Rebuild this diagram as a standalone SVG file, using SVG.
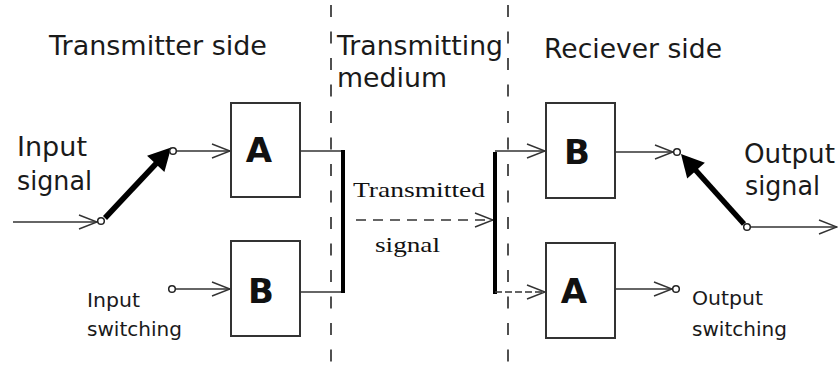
<svg xmlns="http://www.w3.org/2000/svg" width="838" height="371" viewBox="0 0 838 371">
<style>
.t{font-family:"DejaVu Sans","Noto Sans",sans-serif;fill:#1a1a1a}
.h{font-size:27px}
.m{font-size:26px}
.s{font-size:20px}
.big{font-family:"DejaVu Sans","Noto Sans",sans-serif;font-weight:bold;font-size:34px;fill:#111;text-anchor:middle}
.serif{font-family:"Liberation Serif","Times New Roman",serif;font-size:22px;fill:#111}
.box{fill:#fff;stroke:#333;stroke-width:2}
.ln{stroke:#333;stroke-width:1.4;fill:none}
.thick{stroke:#000;stroke-width:4;fill:none}
.sw{stroke:#000;stroke-width:5.5;fill:none}
.div{stroke:#333;stroke-width:1.7;stroke-dasharray:12 14.5;fill:none}
.dot{fill:#fff;stroke:#222;stroke-width:1.5}
</style>
<defs>
<marker id="chev" markerUnits="userSpaceOnUse" markerWidth="24" markerHeight="18" viewBox="-20 -9 22 18" refX="0" refY="0" orient="auto" overflow="visible">
<path d="M-18,-7 L0,0 L-18,7" fill="none" stroke="#333" stroke-width="1.4"/>
</marker>
<marker id="head" markerUnits="userSpaceOnUse" markerWidth="30" markerHeight="30" viewBox="-15 -12 24 24" refX="0" refY="0" orient="auto" overflow="visible">
<path d="M6,0 L-12,-9.5 L-12,9.5 Z" fill="#000"/>
</marker>
</defs>

<g id="dividers">
<line class="div" x1="331" y1="5" x2="331" y2="371"/>
<line class="div" x1="508" y1="5" x2="508" y2="371"/>
</g>

<g id="headings">
<text class="t h" x="49" y="55" textLength="218" lengthAdjust="spacingAndGlyphs">Transmitter side</text>
<text class="t h" x="337" y="55" textLength="166" lengthAdjust="spacingAndGlyphs">Transmitting</text>
<text class="t h" x="337" y="87" textLength="110" lengthAdjust="spacingAndGlyphs">medium</text>
<text class="t h" x="544" y="58" textLength="178" lengthAdjust="spacingAndGlyphs">Reciever side</text>
</g>

<g id="labels">
<text class="t m" x="17" y="156" textLength="70" lengthAdjust="spacingAndGlyphs">Input</text>
<text class="t m" x="17" y="190" textLength="75" lengthAdjust="spacingAndGlyphs">signal</text>
<text class="t s" x="87" y="307" textLength="53" lengthAdjust="spacingAndGlyphs">Input</text>
<text class="t s" x="87" y="336" textLength="95" lengthAdjust="spacingAndGlyphs">switching</text>
<text class="t m" x="744" y="163" textLength="91" lengthAdjust="spacingAndGlyphs">Output</text>
<text class="t m" x="745" y="195" textLength="75" lengthAdjust="spacingAndGlyphs">signal</text>
<text class="t s" x="692" y="305" textLength="71" lengthAdjust="spacingAndGlyphs">Output</text>
<text class="t s" x="692" y="336" textLength="95" lengthAdjust="spacingAndGlyphs">switching</text>
<text class="serif" x="353" y="197" textLength="132" lengthAdjust="spacingAndGlyphs">Transmitted</text>
<text class="serif" x="375" y="252" textLength="65" lengthAdjust="spacingAndGlyphs">signal</text>
</g>

<g id="tx-A">
<rect class="box" x="231" y="103" width="69" height="94"/>
<text class="big" x="259" y="162">A</text>
</g>
<g id="tx-B">
<rect class="box" x="231" y="241" width="69" height="95"/>
<text class="big" x="261" y="303">B</text>
</g>
<g id="rx-B">
<rect class="box" x="546" y="103" width="69" height="95"/>
<text class="big" x="577" y="164">B</text>
</g>
<g id="rx-A">
<rect class="box" x="546" y="243" width="69" height="95"/>
<text class="big" x="574" y="303">A</text>
</g>

<g id="connectors">
<line class="ln" x1="13" y1="222" x2="97" y2="222" marker-end="url(#chev)"/>
<line class="ln" x1="176.5" y1="151" x2="230" y2="151" marker-end="url(#chev)"/>
<line class="ln" x1="175.5" y1="289" x2="230" y2="289" marker-end="url(#chev)"/>
<line class="ln" x1="300" y1="151" x2="343" y2="151"/>
<line class="ln" x1="300" y1="292" x2="343" y2="292"/>
<line class="thick" x1="343" y1="150" x2="343" y2="293"/>
<line class="ln" x1="356" y1="220" x2="493" y2="220" stroke-dasharray="10 7" marker-end="url(#chev)"/>
<line class="thick" x1="495" y1="152" x2="495" y2="294"/>
<line class="ln" x1="495" y1="151" x2="545" y2="151" marker-end="url(#chev)"/>
<line class="ln" x1="495" y1="292" x2="545" y2="292" stroke-dasharray="7 3" marker-end="url(#chev)"/>
<line class="ln" x1="615" y1="152" x2="673" y2="152" marker-end="url(#chev)"/>
<line class="ln" x1="615" y1="289" x2="672" y2="289" marker-end="url(#chev)"/>
<line class="ln" x1="750.5" y1="227" x2="837" y2="227" marker-end="url(#chev)"/>
<line class="sw" x1="105" y1="218" x2="166" y2="153" marker-end="url(#head)"/>
<line class="sw" x1="744" y1="224" x2="686" y2="159.5" marker-end="url(#head)"/>
</g>

<g id="terminals">
<circle class="dot" cx="101" cy="221" r="3.3"/>
<circle class="dot" cx="173" cy="151" r="3.3"/>
<circle class="dot" cx="172" cy="289" r="3.3"/>
<circle class="dot" cx="677" cy="152" r="3.3"/>
<circle class="dot" cx="676" cy="289" r="3.3"/>
<circle class="dot" cx="747" cy="227" r="3.3"/>
</g>
</svg>
